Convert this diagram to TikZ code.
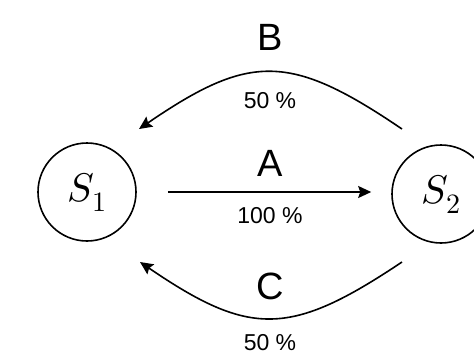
\documentclass[tikz,border=0pt]{standalone}
\usepackage{fontspec}
\usepackage{unicode-math}
\setmainfont{Liberation Sans}
\setmathfont{Latin Modern Math}
\usetikzlibrary{arrows.meta,calc}

\tikzset{
  state/.style={circle, draw, line width=1.6pt, minimum size=98pt, inner sep=0pt,
    font=\fontsize{40}{44}\selectfont},
  trans/.style={line width=1.6pt, -{Stealth[length=13pt,width=12pt,inset=2pt]}},
  biglabel/.style={font=\fontsize{38}{42}\selectfont, inner sep=0pt},
  ratelabel/.style={font=\fontsize{23}{27}\selectfont, inner sep=0pt}
}

\begin{document}
\begin{tikzpicture}[x=1pt, y=-1pt]
  \useasboundingbox (0,0) rectangle (474,357);

  % the two states
  \node[state] (s1) at (87,192) {$S_1$};
  \node[state] (s2) at (441,194) {$S_2$};

  % end points of the curved transitions
  \coordinate (b-out) at ($(s2)+(-39,-65)$);
  \coordinate (b-in)  at ($(s1)+(52,-63)$);
  \coordinate (c-out) at ($(s2)+(-39,68)$);
  \coordinate (c-in)  at ($(s1)+(53,70)$);

  % A : S1 -> S2
  \draw[trans, shorten <=31pt, shorten >=20pt] (s1.east) -- (s1.east -| s2.west);
  \node[biglabel] (la) at (270,163) {A};
  \node[ratelabel] (pa) at (270,216) {100 \%};

  % B : S2 -> S1 over the top
  \draw[trans] (b-out) .. controls (290,53) and (250,53) .. (b-in);
  \node[biglabel] (lb) at (270,37) {B};
  \node[ratelabel] (pb) at (270,101) {50 \%};

  % C : S2 -> S1 underneath
  \draw[trans] (c-out) .. controls (290,337) and (250,337) .. (c-in);
  \node[biglabel] (lc) at (270,286) {C};
  \node[ratelabel] (pc) at (270,343) {50 \%};
\end{tikzpicture}
\end{document}
